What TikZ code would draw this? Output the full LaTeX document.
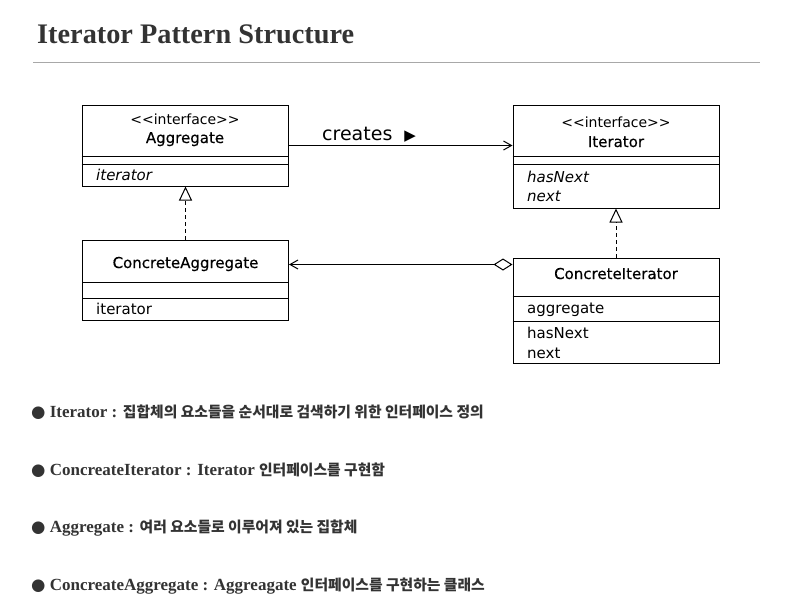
\documentclass[tikz,border=0pt]{standalone}
\usepackage{fontspec}
\setmainfont{Liberation Serif}
\newfontfamily\umlfont{DejaVu Sans}
\newfontfamily\umlname[FakeBold=0.4]{DejaVu Sans}
\newfontfamily\krfont{Noto Sans CJK KR}
\usetikzlibrary{arrows.meta}
\definecolor{txtgray}{HTML}{333333}
\definecolor{rulegray}{HTML}{A8A8A8}

\begin{document}
\begin{tikzpicture}[x=1pt,y=-1pt,
  umlclass/.style={draw, line width=1pt, minimum width=206pt, inner sep=0pt},
  stereo/.style={anchor=base, inner sep=0pt, font=\umlfont\fontsize{14}{17}\selectfont},
  classname/.style={anchor=base, inner sep=0pt, font=\umlname\fontsize{15}{18}\selectfont},
  member/.style={anchor=base west, inner sep=0pt, font=\umlfont\fontsize{15}{18}\selectfont},
  note/.style={anchor=base west, inner sep=0pt, text=txtgray, font=\fontsize{17}{20}\selectfont\bfseries},
  openhead/.style={-{Straight Barb[length=8pt,width=9pt]}},
  realize/.style={dash pattern=on 4pt off 3pt, -{Triangle[open,length=14pt,width=13pt]}},
]
  \useasboundingbox (0,0) rectangle (792,611);
  % title and rule under it
  \node[anchor=base west, inner sep=0pt, text=txtgray, font=\fontsize{28.3}{32}\selectfont\bfseries] (title) at (37,43) {Iterator Pattern Structure};
  \draw[rulegray, line width=1pt] (33,62) -- (760,62);

  % Aggregate
  \node[umlclass, minimum height=81pt] (agg) at (185,145.5) {};
  \draw[line width=1pt] (agg.west |- 0,156) -- (agg.east |- 0,156);
  \draw[line width=1pt] (agg.west |- 0,164) -- (agg.east |- 0,164);
  \node[stereo] (agg-st) at (185,124) {<<interface>>};
  \node[classname] (agg-nm) at (185,143) {Aggregate};
  \node[member] (agg-op) at (96,180) {\itshape iterator};

  % Iterator
  \node[umlclass, minimum height=103pt] (itr) at (616,156.5) {};
  \draw[line width=1pt] (itr.west |- 0,156) -- (itr.east |- 0,156);
  \draw[line width=1pt] (itr.west |- 0,164) -- (itr.east |- 0,164);
  \node[stereo] (itr-st) at (616,127) {<<interface>>};
  \node[classname] (itr-nm) at (616,147) {Iterator};
  \node[member] (itr-op1) at (527,182) {\itshape hasNext};
  \node[member] (itr-op2) at (527,201) {\itshape next};

  % ConcreteAggregate
  \node[umlclass, minimum height=80pt] (cagg) at (185.5,280) {};
  \draw[line width=1pt] (cagg.west |- 0,282) -- (cagg.east |- 0,282);
  \draw[line width=1pt] (cagg.west |- 0,298) -- (cagg.east |- 0,298);
  \node[classname] (cagg-nm) at (185.5,268) {ConcreteAggregate};
  \node[member] (cagg-op) at (96,314) {iterator};

  % ConcreteIterator
  \node[umlclass, minimum height=105pt] (citr) at (616,310.5) {};
  \draw[line width=1pt] (citr.west |- 0,296) -- (citr.east |- 0,296);
  \draw[line width=1pt] (citr.west |- 0,321) -- (citr.east |- 0,321);
  \node[classname] (citr-nm) at (616,279) {ConcreteIterator};
  \node[member] (citr-at) at (527,313) {aggregate};
  \node[member] (citr-op1) at (527,338) {hasNext};
  \node[member] (citr-op2) at (527,358) {next};

  % relations
  \draw[line width=1pt, openhead] (agg.east) -- (agg.east -| itr.west);
  \node[anchor=base west, inner sep=0pt, font=\umlfont\fontsize{19}{22}\selectfont] (creates) at (322,140) {creates\hspace{12pt}{\fontsize{15}{18}\selectfont ▶}};
  \draw[line width=1pt, realize] (cagg.north) -- (cagg.north |- agg.south);
  \draw[line width=1pt, realize] (citr.north) -- (citr.north |- itr.south);
  \coordinate (aggr) at ([yshift=-7pt]citr.north west);
  \draw[line width=1pt, {Diamond[open,length=19pt,width=12pt]}-{Straight Barb[length=8pt,width=9pt]}] (aggr) -- (aggr -| cagg.east);

  % notes below the diagram
  \node[note] (note1) at (31,417) {{\umlfont\fontsize{16.5}{20}\selectfont ●} Iterator : {\krfont\fontsize{14.8}{18}\selectfont 집합체의 요소들을 순서대로 검색하기 위한 인터페이스 정의}};
  \node[note] (note2) at (31,475) {{\umlfont\fontsize{16.5}{20}\selectfont ●} ConcreateIterator : Iterator {\krfont\fontsize{14.8}{18}\selectfont 인터페이스를 구현함}};
  \node[note] (note3) at (31,532) {{\umlfont\fontsize{16.5}{20}\selectfont ●} Aggregate : {\krfont\fontsize{14.8}{18}\selectfont 여러 요소들로 이루어져 있는 집합체}};
  \node[note] (note4) at (31,590) {{\umlfont\fontsize{16.5}{20}\selectfont ●} ConcreateAggregate : Aggreagate {\krfont\fontsize{14.8}{18}\selectfont 인터페이스를 구현하는 클래스}};
\end{tikzpicture}
\end{document}
